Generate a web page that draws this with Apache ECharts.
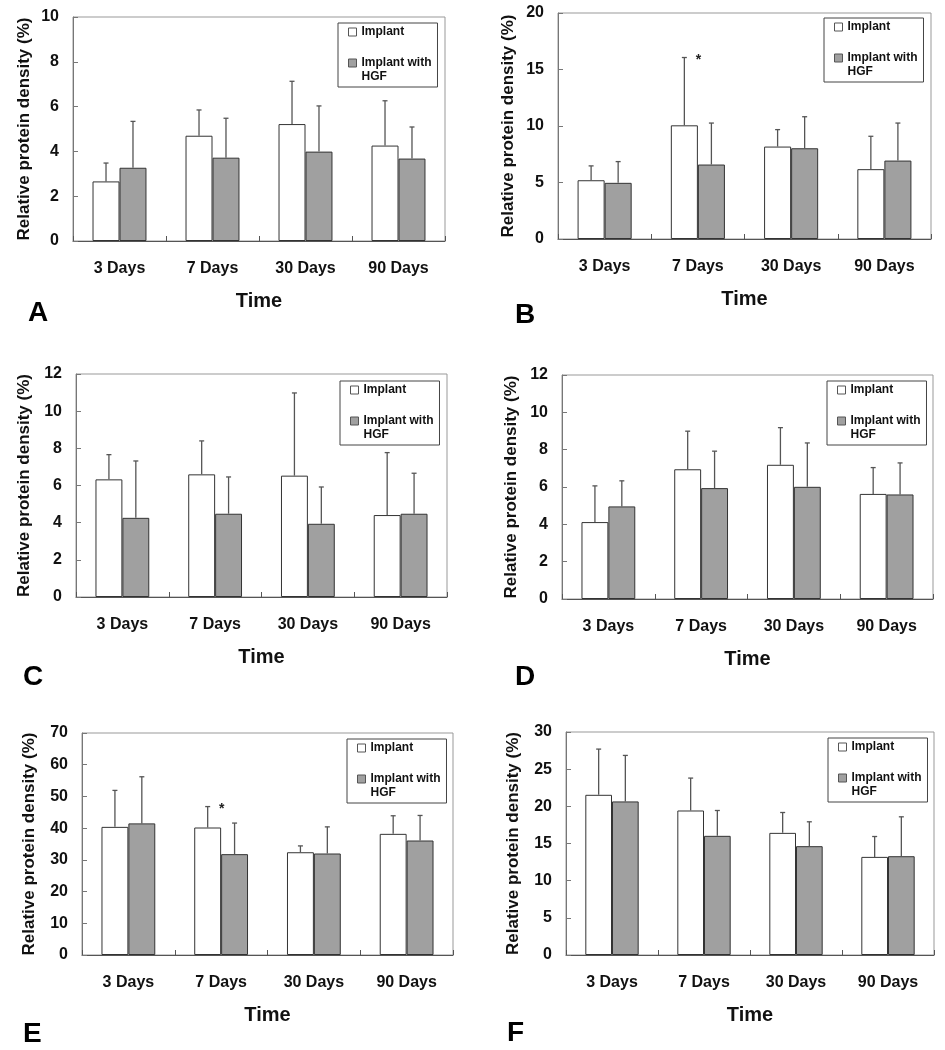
<!DOCTYPE html>
<html>
<head>
<meta charset="utf-8">
<script src="https://cdn.jsdelivr.net/npm/echarts@6/dist/echarts.min.js"></script>
<style>
html,body{margin:0;padding:0;background:#fff;}
#chart{width:945px;height:1050px;}
</style>
</head>
<body>
<div id="chart"></div>
<script>
// ---- data ----
const categories = ['3 Days', '7 Days', '30 Days', '90 Days'];
const seriesNames = ['Implant', 'Implant with HGF'];
const panelLetters = ['A', 'B', 'C', 'D', 'E', 'F'];
const yMax = [10, 20, 12, 12, 70, 30];
const yInterval = [2, 5, 2, 2, 10, 5];

const implantA = [2.66, 4.70, 5.22, 4.26];
const implantSdA = [0.82, 1.15, 1.91, 2.00];
const hgfA = [3.27, 3.72, 3.99, 3.68];
const hgfSdA = [2.07, 1.76, 2.04, 1.41];

const implantB = [5.20, 10.06, 8.18, 6.18];
const implantSdB = [1.27, 6.00, 1.50, 2.91];
const hgfB = [4.97, 6.59, 8.03, 6.94];
const hgfSdB = [1.88, 3.67, 2.79, 3.32];

const implantC = [6.33, 6.60, 6.53, 4.41];
const implantSdC = [1.33, 1.80, 4.45, 3.36];
const hgfC = [4.26, 4.48, 3.94, 4.48];
const hgfSdC = [3.06, 1.98, 1.98, 2.18];

const implantD = [4.12, 6.95, 7.19, 5.63];
const implantSdD = [1.94, 2.04, 1.99, 1.41];
const hgfD = [4.96, 5.94, 6.01, 5.60];
const hgfSdD = [1.37, 1.98, 2.35, 1.69];

const implantE = [40.4, 40.2, 32.4, 38.2];
const implantSdE = [11.5, 6.6, 2.0, 5.7];
const hgfE = [41.5, 31.8, 32.0, 36.1];
const hgfSdE = [14.7, 9.8, 8.4, 7.9];

const implantF = [21.55, 19.44, 16.43, 13.20];
const implantSdF = [6.15, 4.36, 2.74, 2.74];
const hgfF = [20.66, 16.03, 14.64, 13.29];
const hgfSdF = [6.19, 3.41, 3.28, 5.30];

// significance markers (*) placed beside the Implant error bar
const sigA = [0, 0, 0, 0];
const sigB = [0, 1, 0, 0];
const sigC = [0, 0, 0, 0];
const sigD = [0, 0, 0, 0];
const sigE = [0, 1, 0, 0];
const sigF = [0, 0, 0, 0];

const implantAll = [implantA, implantB, implantC, implantD, implantE, implantF];
const implantSdAll = [implantSdA, implantSdB, implantSdC, implantSdD, implantSdE, implantSdF];
const hgfAll = [hgfA, hgfB, hgfC, hgfD, hgfE, hgfF];
const hgfSdAll = [hgfSdA, hgfSdB, hgfSdC, hgfSdD, hgfSdE, hgfSdF];
const sigAll = [sigA, sigB, sigC, sigD, sigE, sigF];

// ---- layout (positions/styles) ----
const grids = [
  {left: 73, top: 17, width: 372, height: 224},
  {left: 558, top: 13, width: 373, height: 226},
  {left: 76, top: 374, width: 371, height: 223},
  {left: 562, top: 375, width: 371, height: 224},
  {left: 82, top: 733, width: 371, height: 222},
  {left: 566, top: 732, width: 368, height: 223}
];
const yNameGap = [40, 41, 43, 42, 44, 44];
const legendPos = [[338, 23], [824, 18], [340, 381], [827, 381], [347, 739], [828, 738]];
const letterPos = [[28, 299], [515, 301], [23, 663], [515, 663], [23, 1020], [507, 1019]];

const FONT = "'Liberation Sans', Arial, sans-serif";
const TXT = '#111';
const BAR_FRAC = 0.29;

function errRender(side) {
  return function (params, api) {
    const cat = api.value(0), mean = api.value(1), sd = api.value(2), sig = api.value(3);
    const base = api.coord([cat, mean]);
    const top = api.coord([cat, mean + sd]);
    const band = api.size([1, 0])[0];
    const x = base[0] + side * band * BAR_FRAC / 2;
    const children = [
      {type: 'line', shape: {x1: x, y1: base[1], x2: x, y2: top[1]},
       style: {stroke: '#555', lineWidth: 1.3}},
      {type: 'line', shape: {x1: x - 2.5, y1: top[1], x2: x + 2.5, y2: top[1]},
       style: {stroke: '#555', lineWidth: 1.3}}
    ];
    if (sig) {
      children.push({type: 'text', style: {text: '*', x: x + 14, y: top[1] + 3,
        align: 'center', verticalAlign: 'middle', font: 'bold 14px ' + FONT, fill: '#222'}});
    }
    return {type: 'group', children: children};
  };
}

const option = {
  animation: false,
  backgroundColor: '#fff',
  grid: [], xAxis: [], yAxis: [], legend: [], title: [], series: []
};

for (let p = 0; p < 6; p++) {
  const g = grids[p];
  option.grid.push(Object.assign({show: true, borderColor: '#999', borderWidth: 1,
    backgroundColor: 'transparent', containLabel: false}, g));
  option.xAxis.push({
    type: 'category', gridIndex: p, data: categories, boundaryGap: true,
    axisLine: {show: true, lineStyle: {color: '#555', width: 1}},
    axisTick: {show: true, inside: true, length: 5, lineStyle: {color: '#555'}},
    axisLabel: {margin: 20, fontFamily: FONT, fontWeight: 'bold', fontSize: 16, color: TXT},
    name: 'Time', nameLocation: 'middle', nameGap: 50,
    nameTextStyle: {fontFamily: FONT, fontWeight: 'bold', fontSize: 20, color: TXT},
    splitLine: {show: false}
  });
  option.yAxis.push({
    type: 'value', gridIndex: p, min: 0, max: yMax[p], interval: yInterval[p],
    axisLine: {show: true, lineStyle: {color: '#777', width: 1}},
    axisTick: {show: true, inside: true, length: 5, lineStyle: {color: '#777'}},
    axisLabel: {margin: 14, fontFamily: FONT, fontWeight: 'bold', fontSize: 16, color: TXT},
    splitLine: {show: false},
    name: 'Relative protein density (%)', nameLocation: 'middle', nameGap: yNameGap[p],
    nameTextStyle: {fontFamily: FONT, fontWeight: 'bold', fontSize: 17, color: TXT}
  });
  option.legend.push({
    orient: 'vertical', left: legendPos[p][0], top: legendPos[p][1],
    padding: [2, 6, 3, 10], itemGap: 3, itemWidth: 8, itemHeight: 8,
    borderColor: '#444', borderWidth: 1, backgroundColor: '#fff',
    icon: 'rect', selectedMode: false,
    itemStyle: {borderColor: '#555', borderWidth: 1},
    textStyle: {fontFamily: FONT, fontWeight: 'bold', fontSize: 12, color: TXT, lineHeight: 14},
    formatter: function (n) { return n === seriesNames[1] ? ' \nImplant with\nHGF' : n; },
    data: [{name: seriesNames[0]}, {name: seriesNames[1]}]
  });
  option.title.push({
    text: panelLetters[p], left: letterPos[p][0], top: letterPos[p][1], padding: 0,
    textStyle: {fontFamily: FONT, fontWeight: 'bold', fontSize: 28, color: '#000'}
  });
  option.series.push({
    type: 'bar', name: seriesNames[0], xAxisIndex: p, yAxisIndex: p,
    data: implantAll[p], barWidth: (BAR_FRAC * 100) + '%', barGap: '0%',
    itemStyle: {color: '#ffffff', borderColor: '#333', borderWidth: 1}
  });
  option.series.push({
    type: 'bar', name: seriesNames[1], xAxisIndex: p, yAxisIndex: p,
    data: hgfAll[p], barWidth: (BAR_FRAC * 100) + '%', barGap: '0%',
    itemStyle: {color: '#a0a0a0', borderColor: '#333', borderWidth: 1}
  });
  option.series.push({
    type: 'custom', name: 'err-implant-' + p, xAxisIndex: p, yAxisIndex: p, z: 5,
    renderItem: errRender(-1), silent: true,
    encode: {x: 0, y: 1},
    data: categories.map((c, i) => [i, implantAll[p][i], implantSdAll[p][i], sigAll[p][i]])
  });
  option.series.push({
    type: 'custom', name: 'err-hgf-' + p, xAxisIndex: p, yAxisIndex: p, z: 5,
    renderItem: errRender(1), silent: true,
    encode: {x: 0, y: 1},
    data: categories.map((c, i) => [i, hgfAll[p][i], hgfSdAll[p][i], 0])
  });
}

const chart = echarts.init(document.getElementById('chart'), null, {renderer: 'canvas'});
chart.setOption(option);
</script>
</body>
</html>
